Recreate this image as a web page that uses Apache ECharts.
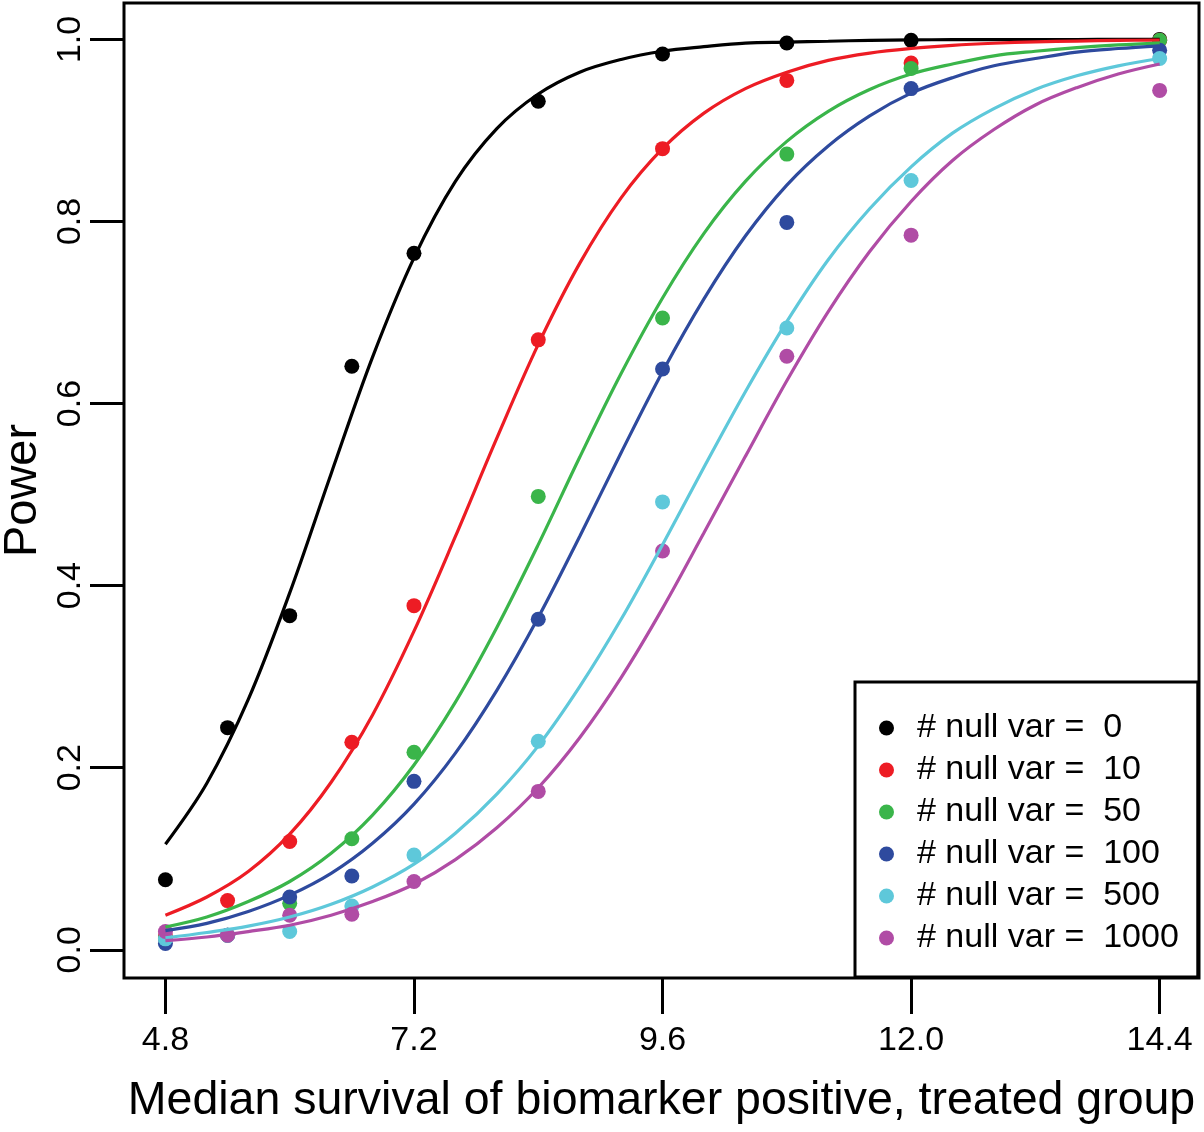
<!DOCTYPE html>
<html><head><meta charset="utf-8">
<script src="https://cdn.jsdelivr.net/npm/echarts@6/dist/echarts.min.js"></script>
<style>html,body{margin:0;padding:0;background:#fff}#c{width:1204px;height:1132px}</style>
</head><body><div id="c"></div>
<script>
// Observed simulation points
const pointX = [4.8, 5.4, 6.0, 6.6, 7.2, 8.4, 9.6, 10.8, 12.0, 14.4];
const pts0    = [0.077, 0.244, 0.367, 0.641, 0.765, 0.932, 0.984, 0.996, 0.999, 1.0];
const pts10   = [0.015, 0.054, 0.119, 0.228, 0.378, 0.670, 0.880, 0.955, 0.974, 0.999];
const pts50   = [0.013, 0.016, 0.051, 0.122, 0.217, 0.498, 0.694, 0.874, 0.968, 0.999];
const pts100  = [0.007, 0.016, 0.058, 0.081, 0.185, 0.363, 0.638, 0.799, 0.946, 0.988];
const pts500  = [0.012, 0.016, 0.020, 0.048, 0.104, 0.229, 0.492, 0.683, 0.845, 0.979];
const pts1000 = [0.020, 0.016, 0.038, 0.039, 0.075, 0.174, 0.438, 0.652, 0.785, 0.944];

// Fitted curves
const curveX = [4.8, 5.2, 5.6, 6.0, 6.4, 6.8, 7.2, 7.6, 8.0, 8.4, 8.8, 9.2, 9.6, 10.0, 10.4, 10.8, 11.2, 11.6, 12.0, 12.4, 12.8, 13.2, 13.6, 14.0, 14.4];
const fit0    = [0.116, 0.183, 0.275, 0.392, 0.523, 0.651, 0.760, 0.844, 0.902, 0.940, 0.964, 0.978, 0.987, 0.992, 0.996, 0.997, 0.998, 0.999, 0.9995, 0.9997, 0.9998, 0.9999, 0.9999, 1.0, 1.0];
const fit10   = [0.038, 0.058, 0.086, 0.127, 0.184, 0.258, 0.350, 0.454, 0.562, 0.665, 0.754, 0.826, 0.880, 0.919, 0.946, 0.964, 0.977, 0.985, 0.990, 0.9935, 0.9958, 0.9973, 0.9982, 0.9989, 0.9993];
const fit50   = [0.025, 0.036, 0.053, 0.075, 0.106, 0.148, 0.203, 0.272, 0.354, 0.445, 0.541, 0.633, 0.716, 0.787, 0.844, 0.888, 0.921, 0.945, 0.962, 0.973, 0.982, 0.987, 0.991, 0.994, 0.996];
const fit100  = [0.021, 0.029, 0.042, 0.060, 0.084, 0.117, 0.160, 0.216, 0.285, 0.365, 0.454, 0.546, 0.635, 0.715, 0.784, 0.840, 0.883, 0.916, 0.941, 0.958, 0.971, 0.979, 0.986, 0.990, 0.993];
const fit500  = [0.013, 0.019, 0.026, 0.036, 0.050, 0.069, 0.094, 0.128, 0.171, 0.224, 0.289, 0.363, 0.445, 0.530, 0.613, 0.690, 0.758, 0.814, 0.860, 0.897, 0.924, 0.945, 0.960, 0.971, 0.979];
const fit1000 = [0.010, 0.014, 0.020, 0.027, 0.038, 0.053, 0.072, 0.099, 0.134, 0.178, 0.233, 0.299, 0.375, 0.458, 0.542, 0.625, 0.701, 0.767, 0.822, 0.867, 0.901, 0.928, 0.947, 0.962, 0.973];

const xTicks = [4.8, 7.2, 9.6, 12.0, 14.4];
const yTicks = [0.0, 0.2, 0.4, 0.6, 0.8, 1.0];
const seriesNames = ['# null var =  0', '# null var =  10', '# null var =  50', '# null var =  100', '# null var =  500', '# null var =  1000'];
const colors = ['#000000', '#ED1C24', '#3AB54A', '#2E4A9E', '#5EC8DA', '#B04CA5'];

const allPts = [pts0, pts10, pts50, pts100, pts500, pts1000];
const allFits = [fit0, fit10, fit50, fit100, fit500, fit1000];
const FONT = '"Liberation Sans", Arial, Helvetica, sans-serif';

const series = [];
allPts.forEach((p, i) => {
  series.push({
    type: 'scatter', name: seriesNames[i], symbol: 'circle', symbolSize: 15,
    itemStyle: { color: colors[i], opacity: 1 },
    data: pointX.map((x, j) => [x, p[j]]),
    z: 2
  });
});
allFits.forEach((f, i) => {
  series.push({
    type: 'line', name: seriesNames[i] + ' fit', showSymbol: false,
    smooth: 0.35,
    lineStyle: { color: colors[i], width: 3.2 },
    data: curveX.map((x, j) => [x, f[j]]),
    z: 3
  });
});

const chart = echarts.init(document.getElementById('c'));
chart.setOption({
  animation: false,
  backgroundColor: '#ffffff',
  textStyle: { fontFamily: FONT },
  grid: { left: 124, right: 5, top: 3, bottom: 154, outerBoundsMode: 'none', containLabel: false,
          show: true, borderColor: '#000', borderWidth: 3, backgroundColor: 'transparent' },
  xAxis: {
    type: 'value', min: 4.4, max: 14.78,
    name: 'Median survival of biomarker positive, treated group',
    nameLocation: 'middle', nameGap: 100,
    nameTextStyle: { fontSize: 46.5, color: '#000', fontFamily: FONT },
    axisLine: { show: false, onZero: false },
    axisTick: { show: true, customValues: xTicks, length: 36, lineStyle: { color: '#000', width: 3 } },
    axisLabel: { customValues: xTicks, formatter: v => v.toFixed(1), fontSize: 34, color: '#000', margin: 46, fontFamily: FONT },
    splitLine: { show: false }
  },
  yAxis: {
    type: 'value', min: -0.031, max: 1.04,
    name: 'Power', nameLocation: 'middle', nameGap: 76, nameRotate: 90,
    nameTextStyle: { fontSize: 47, color: '#000', fontFamily: FONT },
    axisLine: { show: false },
    axisTick: { show: true, customValues: yTicks, length: 34, lineStyle: { color: '#000', width: 3 } },
    axisLabel: { customValues: yTicks, formatter: v => v.toFixed(1), fontSize: 34, color: '#000', margin: 36, rotate: 90, fontFamily: FONT },
    splitLine: { show: false }
  },
  legend: {
    orient: 'vertical', left: 855, top: 682,
    data: seriesNames.map(n => ({ name: n, icon: 'circle' })),
    itemWidth: 15, itemHeight: 15, itemGap: 0,
    padding: [25, 19, 18, 24],
    borderColor: '#000', borderWidth: 3, backgroundColor: '#fff',
    textStyle: { fontSize: 34, color: '#000', lineHeight: 42, padding: [0, 0, 0, 18], fontFamily: FONT },
    selectedMode: false
  },
  series: series
});
</script></body></html>
